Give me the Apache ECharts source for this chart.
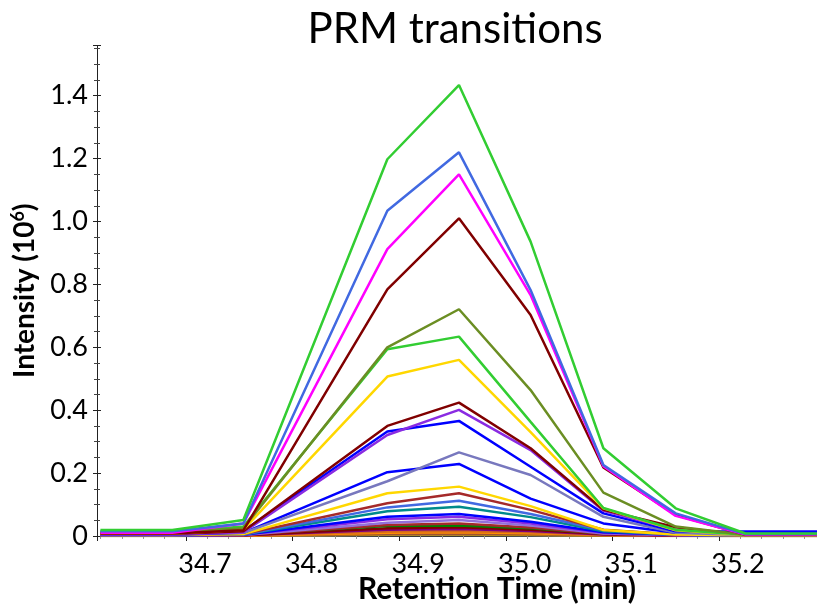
<!DOCTYPE html>
<html>
<head>
<meta charset="utf-8">
<script src="https://cdn.jsdelivr.net/npm/echarts@6/dist/echarts.min.js"></script>
<style>
  html, body { margin: 0; padding: 0; background: #ffffff; }
  #chart { width: 817px; height: 606px; }
</style>
</head>
<body>
<div id="chart"></div>
<script>
// Retention times (min) of the scans
const retentionTimes = [34.6197, 34.6872, 34.7538, 34.8889, 34.9561, 35.0233, 35.0916, 35.1594, 35.2250, 35.2926];

// Transition intensities (x 10^6)
const t01 = [0.019, 0.019, 0.051, 1.198, 1.434, 0.936, 0.279, 0.088, 0.008, 0.008];
const t02 = [0.015, 0.015, 0.040, 1.034, 1.220, 0.782, 0.226, 0.072, 0.006, 0.006];
const t03 = [0.010, 0.010, 0.040, 0.912, 1.150, 0.766, 0.222, 0.064, 0.005, 0.005];
const t04 = [0.008, 0.008, 0.018, 0.784, 1.010, 0.703, 0.218, 0.067, 0.004, 0.004];
const t05 = [0.010, 0.010, 0.025, 0.600, 0.721, 0.464, 0.138, 0.030, 0.004, 0.004];
const t06 = [0.013, 0.013, 0.030, 0.594, 0.634, 0.363, 0.089, 0.020, 0.004, 0.004];
const t07 = [0.008, 0.008, 0.020, 0.507, 0.560, 0.330, 0.088, 0.018, 0.003, 0.003];
const t08 = [0.007, 0.007, 0.015, 0.350, 0.424, 0.279, 0.083, 0.028, 0.003, 0.003];
const t09 = [0.005, 0.005, 0.012, 0.321, 0.401, 0.273, 0.080, 0.020, 0.003, 0.003];
const t10 = [0.012, 0.012, 0.016, 0.332, 0.366, 0.220, 0.072, 0.015, 0.014, 0.014];
const t11 = [0.008, 0.008, 0.010, 0.174, 0.266, 0.194, 0.061, 0.010, 0.003, 0.003];
const t12 = [0.004, 0.004, 0.010, 0.203, 0.229, 0.119, 0.040, 0.010, 0.011, 0.011];
const t13 = [0.003, 0.003, 0.006, 0.136, 0.157, 0.095, 0.019, 0.005, 0.002, 0.002];
const t14 = [0.003, 0.003, 0.006, 0.104, 0.136, 0.083, 0.020, 0.005, 0.002, 0.002];
const t15 = [0.003, 0.003, 0.005, 0.091, 0.112, 0.070, 0.018, 0.004, 0.002, 0.002];
const t16 = [0.003, 0.003, 0.005, 0.079, 0.093, 0.060, 0.015, 0.004, 0.002, 0.002];
const t17 = [0.003, 0.003, 0.004, 0.061, 0.070, 0.045, 0.012, 0.004, 0.002, 0.002];
const t18 = [0.002, 0.002, 0.004, 0.053, 0.061, 0.040, 0.010, 0.003, 0.002, 0.002];
const t19 = [0.002, 0.002, 0.003, 0.042, 0.051, 0.033, 0.008, 0.003, 0.001, 0.001];
const t20 = [0.002, 0.002, 0.003, 0.035, 0.040, 0.027, 0.007, 0.002, 0.001, 0.001];
const t21 = [0.006, 0.006, 0.006, 0.032, 0.033, 0.025, 0.008, 0.004, 0.004, 0.004];
const t22 = [0.002, 0.002, 0.002, 0.025, 0.028, 0.020, 0.006, 0.002, 0.001, 0.001];
const t23 = [0.001, 0.001, 0.002, 0.020, 0.022, 0.016, 0.005, 0.001, 0.001, 0.001];
const t24 = [0.001, 0.001, 0.002, 0.014, 0.016, 0.012, 0.004, 0.001, 0.001, 0.001];
const t25 = [0.001, 0.001, 0.001, 0.010, 0.012, 0.009, 0.003, 0.001, 0.001, 0.001];
const t26 = [0.001, 0.001, 0.001, 0.007, 0.008, 0.006, 0.002, 0.001, 0.000, 0.000];
const t27 = [0.000, 0.000, 0.001, 0.005, 0.005, 0.004, 0.001, 0.000, 0.000, 0.000];
const t28 = [0.000, 0.000, 0.000, 0.003, 0.003, 0.002, 0.001, 0.000, 0.000, 0.000];

const transitions = [t01, t02, t03, t04, t05, t06, t07, t08, t09, t10, t11, t12, t13, t14,
                     t15, t16, t17, t18, t19, t20, t21, t22, t23, t24, t25, t26, t27, t28];
const transitionColors = ['#32CD32', '#4169E1', '#FF00FF', '#800000', '#6B8E23', '#32CD32', '#FFD700',
  '#800000', '#8A2BE2', '#0000FF', '#7878BE', '#0000FF', '#FFD700', '#A52A2A', '#4169E1', '#008B8B',
  '#0000FF', '#8A2BE2', '#9370DB', '#A52A2A', '#008000', '#800000', '#800080', '#D2691E', '#FF8C00',
  '#A0522D', '#B8860B', '#808080'];

const yTickValues = [0, 0.2, 0.4, 0.6, 0.8, 1.0, 1.2, 1.4];

const FONT = 'Lato, "Open Sans", sans-serif';

const series = [];
for (let i = transitions.length - 1; i >= 0; i--) {
  series.push({
    type: 'line',
    xAxisIndex: 0,
    yAxisIndex: 0,
    symbol: 'none',
    data: retentionTimes.map((t, k) => [t, transitions[i][k]]),
    lineStyle: { color: transitionColors[i], width: 2.5 },
    itemStyle: { color: transitionColors[i] },
    emphasis: { disabled: true },
    animation: false
  });
}

const chart = echarts.init(document.getElementById('chart'), null, { renderer: 'canvas' });

const xCommon = {
  type: 'value',
  min: 34.6165,
  max: 35.292,
  splitNumber: 6,
  splitLine: { show: false }
};
const yCommon = {
  type: 'value',
  min: 0,
  max: 1.56,
  interval: 0.2,
  splitLine: { show: false }
};

chart.setOption({
  backgroundColor: '#ffffff',
  animation: false,
  title: {
    text: 'PRM transitions',
    left: 450,
    top: 3,
    textAlign: 'center',
    textStyle: { fontFamily: FONT, fontSize: 42, fontWeight: 'normal', color: '#000' }
  },
  grid: {
    left: 97, right: 0, top: 45.4, bottom: 70,
    containLabel: false,
    outerBoundsMode: 'none'
  },
  xAxis: [
    Object.assign({}, xCommon, {
      position: 'bottom',
      name: 'Retention Time (min)',
      nameLocation: 'middle',
      nameGap: 38,
      nameMoveOverlap: false,
      nameTextStyle: { fontFamily: FONT, fontSize: 30, fontWeight: 'bold', color: '#000', padding: [0, 0, 0, 80] },
      axisLine: { show: true, lineStyle: { color: '#222', width: 1 } },
      axisTick: { show: true, inside: false, length: 5, lineStyle: { color: '#222' } },
      minorTick: { show: true, splitNumber: 5, length: 3, lineStyle: { color: '#999' } },
      axisLabel: {
        show: true, margin: 15, fontFamily: FONT, fontSize: 27, color: '#000',
        showMinLabel: false, showMaxLabel: false,
        padding: [0, 0, 0, 38],
        formatter: v => v.toFixed(1)
      }
    }),
    Object.assign({}, xCommon, {
      position: 'bottom',
      axisLine: { show: false },
      axisTick: { show: true, inside: true, length: 5, lineStyle: { color: '#222' } },
      minorTick: { show: false },
      axisLabel: { show: false }
    })
  ],
  yAxis: [
    Object.assign({}, yCommon, {
      position: 'left',
      name: '{a|Intensity (10}{s|6}{a|)}',
      nameLocation: 'middle',
      nameGap: 56,
      nameRotate: 90,
      nameMoveOverlap: false,
      nameTextStyle: {
        rich: {
          a: { fontFamily: FONT, fontSize: 28, fontWeight: 'bold', color: '#000', lineHeight: 32 },
          s: { fontFamily: FONT, fontSize: 18, fontWeight: 'bold', color: '#000', verticalAlign: 'top', lineHeight: 32 }
        }
      },
      axisLine: { show: true, lineStyle: { color: '#222', width: 1 } },
      axisTick: { show: true, inside: false, length: 4, lineStyle: { color: '#222' } },
      minorTick: { show: true, splitNumber: 4, length: 3, lineStyle: { color: '#444' } },
      axisLabel: {
        show: true, margin: 9, fontFamily: FONT, fontSize: 27, color: '#000',
        showMaxLabel: false,
        formatter: v => {
          const hit = yTickValues.find(t => Math.abs(t - v) < 1e-6);
          if (hit === undefined) return '';
          return hit === 0 ? '0' : hit.toFixed(1);
        }
      }
    }),
    Object.assign({}, yCommon, {
      position: 'left',
      axisLine: { show: false },
      axisTick: { show: true, inside: true, length: 4, lineStyle: { color: '#222' } },
      minorTick: { show: true, splitNumber: 4, length: 3, lineStyle: { color: '#444' } },
      axisLabel: { show: false }
    })
  ],
  series: series
});
</script>
</body>
</html>
